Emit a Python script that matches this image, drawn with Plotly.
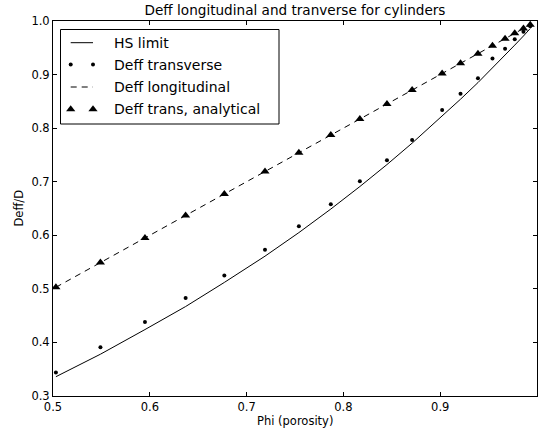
import plotly.graph_objects as go

# Porosity values at which the diffusivities were evaluated
phi = [0.503, 0.549, 0.595, 0.637, 0.677, 0.719, 0.754, 0.787, 0.817, 0.845,
       0.871, 0.902, 0.921, 0.939, 0.954, 0.967, 0.977, 0.986, 0.993]

# Hashin-Shtrikman limit, phi/(2-phi)
hs_limit = [0.336, 0.378, 0.424, 0.467, 0.512, 0.561, 0.605, 0.649, 0.691, 0.732,
            0.772, 0.822, 0.854, 0.885, 0.912, 0.936, 0.955, 0.972, 0.986]

# Simulated transverse effective diffusivity
deff_trans = [0.344, 0.391, 0.438, 0.483, 0.525, 0.573, 0.617, 0.658, 0.701, 0.740,
              0.778, 0.834, 0.864, 0.893, 0.930, 0.948, 0.966, 0.980, 0.990]

# Longitudinal effective diffusivity
deff_long = [0.503, 0.549, 0.595, 0.637, 0.677, 0.719, 0.754, 0.787, 0.817, 0.845,
             0.871, 0.902, 0.921, 0.939, 0.954, 0.967, 0.977, 0.986, 0.993]

# Analytical transverse values
deff_anal = [0.503, 0.549, 0.595, 0.637, 0.677, 0.719, 0.754, 0.787, 0.817, 0.845,
             0.871, 0.902, 0.921, 0.939, 0.954, 0.967, 0.977, 0.986, 0.993]

x_ticks = [0.5, 0.6, 0.7, 0.8, 0.9, 1.0]
y_ticks = [0.3, 0.4, 0.5, 0.6, 0.7, 0.8, 0.9, 1.0]

FONT = "DejaVu Sans"
W, H = 546, 434
L, R, T, B = 53, 9, 21, 38
PW, PH = W - L - R, H - T - B

fig = go.Figure()
fig.add_trace(go.Scatter(x=phi, y=hs_limit, mode="lines",
                         line=dict(color="black", width=1), showlegend=False))
fig.add_trace(go.Scatter(x=phi, y=deff_trans, mode="markers",
                         marker=dict(color="black", size=4, symbol="circle"),
                         showlegend=False))
fig.add_trace(go.Scatter(x=phi, y=deff_long, mode="lines",
                         line=dict(color="black", width=1, dash="6px,5px"),
                         showlegend=False))
fig.add_trace(go.Scatter(x=phi, y=deff_anal, mode="markers",
                         marker=dict(color="black", size=8, symbol="triangle-up"),
                         showlegend=False))


# Hand-built legend box (paper fractions from pixel positions)
def fx(px):
    return (px - L) / PW


def fy(py):
    return (H - B - py) / PH


rows = [42.7, 64.5, 87.0, 109.3]
key_x0, key_x1 = 70.7, 93.0
labels = ["HS limit", "Deff transverse", "Deff longitudinal", "Deff trans, analytical"]

shapes = [dict(type="rect", xref="paper", yref="paper",
               x0=fx(60.5), x1=fx(279), y0=fy(124), y1=fy(29.5),
               line=dict(color="black", width=1), fillcolor="white", layer="below")]
shapes.append(dict(type="line", xref="paper", yref="paper",
                   x0=fx(key_x0), x1=fx(key_x1), y0=fy(rows[0]), y1=fy(rows[0]),
                   line=dict(color="black", width=1), layer="above"))
shapes.append(dict(type="line", xref="paper", yref="paper",
                   x0=fx(key_x0), x1=fx(key_x1), y0=fy(rows[2]), y1=fy(rows[2]),
                   line=dict(color="black", width=1, dash="6px,5px"), layer="above"))

# legend markers drawn on an overlay axis spanning the plot area
fig.add_trace(go.Scatter(x=[fx(key_x0), fx(key_x1)], y=[fy(rows[1])] * 2,
                         xaxis="x2", yaxis="y2", mode="markers",
                         marker=dict(color="black", size=4), showlegend=False,
                         cliponaxis=False))
fig.add_trace(go.Scatter(x=[fx(key_x0), fx(key_x1)], y=[fy(rows[3])] * 2,
                         xaxis="x2", yaxis="y2", mode="markers",
                         marker=dict(color="black", size=8, symbol="triangle-up"),
                         showlegend=False, cliponaxis=False))

annotations = []
for r, lab in zip(rows, labels):
    annotations.append(dict(x=fx(111.5), y=fy(r), xref="paper", yref="paper",
                            text=lab, showarrow=False, xanchor="left", yanchor="middle",
                            font=dict(family=FONT, size=14, color="black")))

annotations.append(dict(x=0.5, y=0, xref="paper", yref="paper", text="Phi (porosity)",
                        showarrow=False, xanchor="center", yanchor="middle", yshift=-25,
                        font=dict(family=FONT, size=11.5, color="black")))
annotations.append(dict(x=0, y=0.5, xref="paper", yref="paper", text="Deff/D",
                        showarrow=False, xanchor="center", yanchor="middle", xshift=-35,
                        textangle=-90, font=dict(family=FONT, size=11.5, color="black")))

axis_common = dict(showgrid=False, zeroline=False, ticks="inside", ticklen=4,
                   tickcolor="black", tickwidth=1, showline=True, linecolor="black",
                   linewidth=1, mirror="ticks",
                   tickfont=dict(family=FONT, size=11.5, color="black"))

fig.update_layout(
    width=W, height=H,
    margin=dict(l=L, r=R, t=T, b=B),
    paper_bgcolor="white", plot_bgcolor="white",
    title=dict(text="Deff longitudinal and tranverse for cylinders",
               x=(L + PW / 2) / W, xanchor="center",
               y=1 - 10 / H, yanchor="middle", xref="container", yref="container",
               font=dict(family=FONT, size=13.6, color="black")),
    xaxis=dict(range=[0.5, 1.0], tickvals=x_ticks,
               ticktext=[f"{v:.1f}" for v in x_ticks], **axis_common),
    yaxis=dict(range=[0.3, 1.0], tickvals=y_ticks,
               ticktext=[f"{v:.1f}" for v in y_ticks], **axis_common),
    xaxis2=dict(range=[0, 1], overlaying="x", visible=False),
    yaxis2=dict(range=[0, 1], overlaying="y", visible=False),
    shapes=shapes,
    annotations=annotations,
    showlegend=False,
)

fig.write_html("out.html")
